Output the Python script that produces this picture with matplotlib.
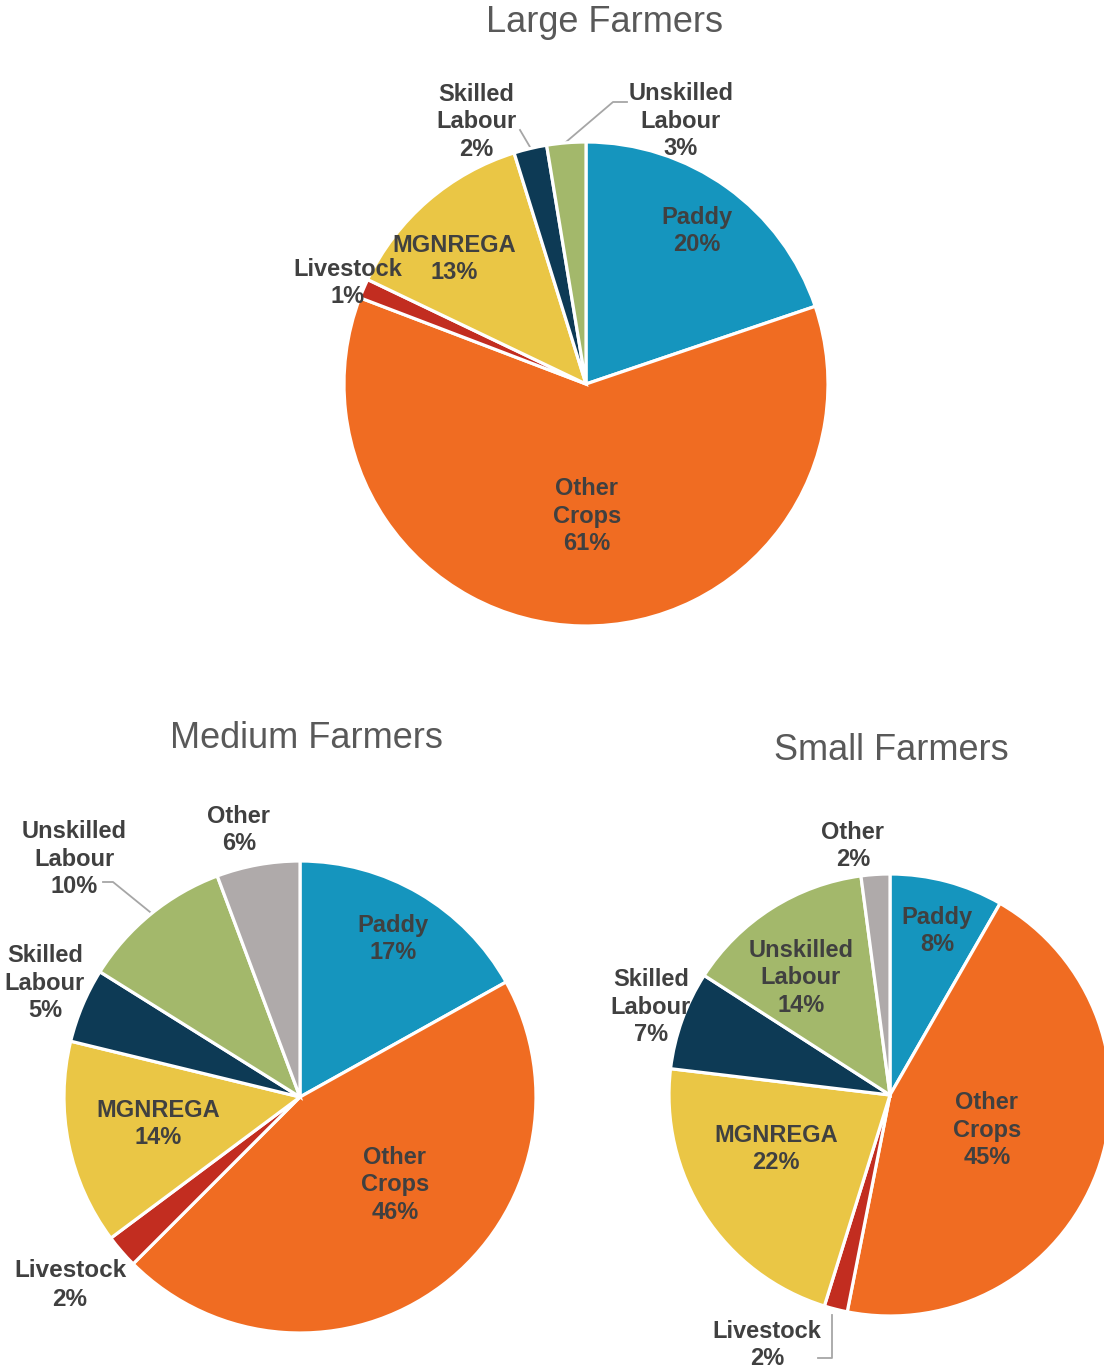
import matplotlib
matplotlib.use("Agg")
import matplotlib.pyplot as plt

# ---------------- data ----------------
large_categories = ["Paddy", "Other Crops", "Livestock", "MGNREGA", "Skilled Labour", "Unskilled Labour"]
large_values = [19.8, 61.0, 1.3, 13.1, 2.2, 2.6]

medium_categories = ["Paddy", "Other Crops", "Livestock", "MGNREGA", "Skilled Labour", "Unskilled Labour", "Other"]
medium_values = [16.9, 45.6, 2.3, 14.0, 5.1, 10.4, 5.7]

small_categories = ["Paddy", "Other Crops", "Livestock", "MGNREGA", "Skilled Labour", "Unskilled Labour", "Other"]
small_values = [8.3, 44.8, 1.7, 22.1, 7.2, 13.8, 2.1]

titles = ["Large Farmers", "Medium Farmers", "Small Farmers"]

# ---------------- style ----------------
colors = {
    "Paddy": "#1595BE",
    "Other Crops": "#F06C22",
    "Livestock": "#C22D20",
    "MGNREGA": "#EAC645",
    "Skilled Labour": "#0D3A55",
    "Unskilled Labour": "#A3B86B",
    "Other": "#AFAAAA",
}
TXT = "#404040"
TITLE = "#595959"
FONT = "Liberation Sans"

W, H = 1104, 1371
fig = plt.figure(figsize=(W / 100, H / 100), dpi=100)
ax = fig.add_axes([0, 0, 1, 1])


def Y(y):  # pixel y (top-down) -> data y
    return H - y


def label_text(cat, v):
    name = cat.replace(" ", "\n") if cat != "MGNREGA" else cat
    return f"{name}\n{round(v):d}%"


def draw_pie(cats, vals, center, radius, label_pos, title, title_pos, big=()):
    ax.pie(vals, colors=[colors[c] for c in cats], startangle=90, counterclock=False,
           center=(center[0], Y(center[1])), radius=radius,
           wedgeprops=dict(edgecolor="white", linewidth=2.3))
    for c, v in zip(cats, vals):
        x, y = label_pos[c]
        fs = 17.5 if c in big else 17
        ls = 1.35 if c in big else 1.24
        ax.text(x, Y(y), label_text(c, v), ha="center", va="center", fontsize=fs,
                fontweight="bold", color=TXT, family=FONT, linespacing=ls)
    ax.text(title_pos[0], Y(title_pos[1]), title, ha="center", va="center",
            fontsize=26, color=TITLE, family=FONT)


large_pos = {
    "Paddy": (697, 231),
    "Other Crops": (587, 516),
    "Livestock": (348, 283),
    "MGNREGA": (454, 259),
    "Skilled Labour": (476, 122),
    "Unskilled Labour": (681, 121),
}
medium_pos = {
    "Paddy": (393, 939),
    "Other Crops": (395, 1185),
    "Livestock": (70, 1285),
    "MGNREGA": (158, 1124),
    "Skilled Labour": (45, 983),
    "Unskilled Labour": (74, 859),
    "Other": (239, 830),
}
small_pos = {
    "Paddy": (937, 931),
    "Other Crops": (987, 1130),
    "Livestock": (767, 1345),
    "MGNREGA": (776, 1149),
    "Skilled Labour": (651, 1007),
    "Unskilled Labour": (801, 978),
    "Other": (853, 846),
}

draw_pie(large_categories, large_values, (586, 384), 242, large_pos, titles[0], (605, 22))
draw_pie(medium_categories, medium_values, (300, 1097), 236, medium_pos, titles[1], (306, 738),
         big=("Livestock",))
draw_pie(small_categories, small_values, (890, 1095), 221, small_pos, titles[2], (891, 751))

# leader lines
LC = "#A6A6A6"
leaders = [
    [(520, 130), (530, 147)],
    [(566, 142), (613, 102), (627, 102)],
    [(103, 882), (113, 882), (150, 912)],
    [(832, 1315), (832, 1358), (818, 1358)],
]
for pts in leaders:
    ax.plot([p[0] for p in pts], [Y(p[1]) for p in pts], color=LC, lw=1.3, zorder=0.5)

ax.set_xlim(0, W)
ax.set_ylim(0, H)
ax.set_aspect("auto")
ax.axis("off")

fig.savefig("out.png", dpi=100)
